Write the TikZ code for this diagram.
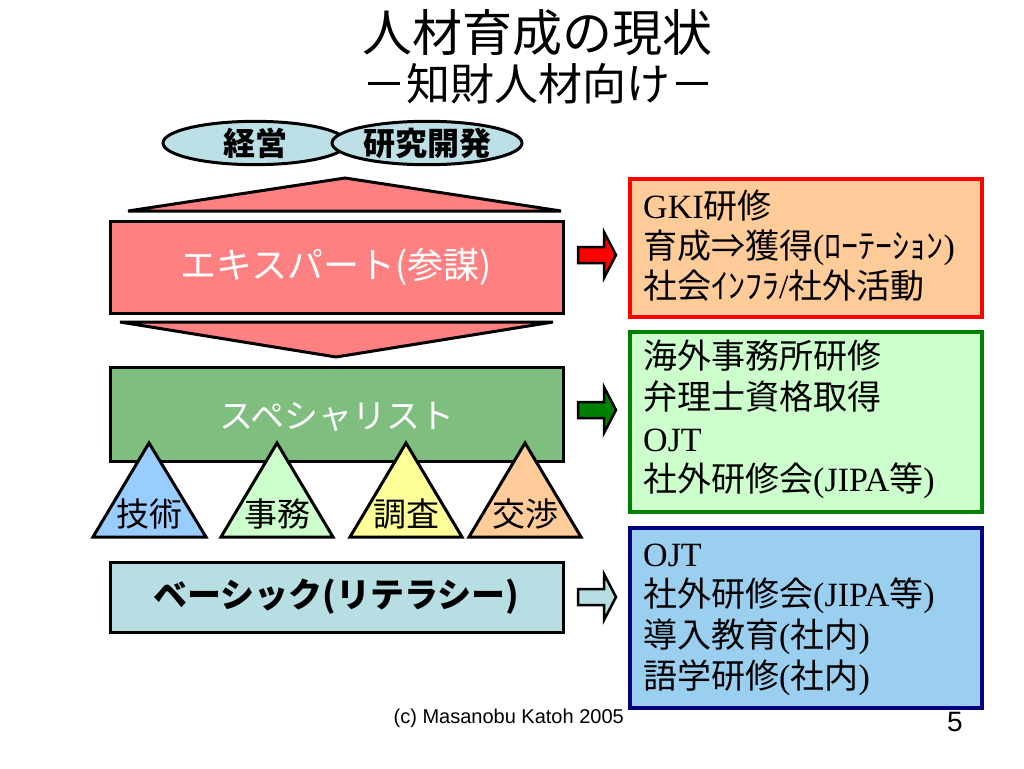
\documentclass[tikz,border=0pt]{standalone}
\usepackage{fontspec}
\setmainfont{Liberation Serif}
\setsansfont{Liberation Sans}
\newfontfamily\jp{Noto Sans CJK JP}
\usetikzlibrary{shapes.geometric}
\definecolor{ellblue}{RGB}{189,224,230}
\definecolor{expred}{RGB}{255,128,128}
\definecolor{spgreen}{RGB}{128,190,128}
\definecolor{tblue}{RGB}{153,204,255}
\definecolor{tgreen}{RGB}{204,255,204}
\definecolor{tyellow}{RGB}{255,255,153}
\definecolor{torange}{RGB}{255,204,153}
\definecolor{basicblue}{RGB}{183,222,227}
\definecolor{boxorange}{RGB}{255,204,153}
\definecolor{boxgreen}{RGB}{204,255,204}
\definecolor{boxblue}{RGB}{155,207,240}
\definecolor{dkgreen}{RGB}{0,128,0}
\definecolor{navy}{RGB}{0,0,128}
\begin{document}
\begin{tikzpicture}[x=1pt,y=-1pt,
  lbox/.style={draw=black, line width=3pt, minimum width=453pt, inner sep=0pt, font=\jp\fontsize{34}{40}\selectfont},
  rbox/.style={line width=3.5pt, minimum width=352pt, inner sep=0pt},
  rline/.style={anchor=base west, inner sep=0pt, font=\fontsize{34}{40}\selectfont},
  ell/.style={ellipse, draw=black, line width=3pt, fill=ellblue, inner sep=0pt, minimum height=40pt, font=\jp\bfseries\fontsize{32}{40}\selectfont},
  tri/.style={draw=black, line width=3pt, line join=miter},
  trilabel/.style={inner sep=0pt, font=\jp\fontsize{33}{40}\selectfont},
  barrow/.style={draw=black, line width=2.5pt, line join=miter}
]
\fill[white] (0,0) rectangle (1024,768);
\useasboundingbox (0,0) rectangle (1024,768);

% title
\node[inner sep=0pt, font=\jp\fontsize{50}{56}\selectfont] (title) at (537,33) {人材育成の現状};
\node[inner sep=0pt, font=\jp\fontsize{44}{50}\selectfont] (subtitle) at (538,84) {－知財人材向け－};

% ellipses
\node[ell, minimum width=184pt] (keiei) at (255,143) {経営};
\node[ell, minimum width=190pt] (kenkyu) at (427,143) {研究開発};

% pyramid parts
\filldraw[tri, fill=expred] (128,211) -- (345,178) -- (561,211) -- cycle;
\node[lbox, fill=expred, minimum height=92pt, text=white, font=\jp\fontsize{36}{40}\selectfont] (expert) at (336.5,267) {エキスパート(参謀)};
\filldraw[tri, fill=expred] (120,322) -- (553,322) -- (336,357) -- cycle;
\node[lbox, fill=spgreen, minimum height=94pt] (special) at (336.5,414) {};
\node[trilabel, font=\jp\fontsize{34}{40}\selectfont, text=white] (speciallabel) at (337,417) {スペシャリスト};

% skill triangles
\filldraw[tri, fill=tblue] (93,537) -- (149,443) -- (206,537) -- cycle;
\node[trilabel] (gijutsu) at (149,514) {技術};
\filldraw[tri, fill=tgreen] (221,537) -- (277,443) -- (333,537) -- cycle;
\node[trilabel] (jimu) at (277,514) {事務};
\filldraw[tri, fill=tyellow] (350,537) -- (406,443) -- (462,537) -- cycle;
\node[trilabel] (chousa) at (406,514) {調査};
\filldraw[tri, fill=torange] (469,537) -- (525,443) -- (581,537) -- cycle;
\node[trilabel] (koushou) at (525,514) {交渉};

% basic box
\node[lbox, fill=basicblue, minimum height=70pt, font=\jp\bfseries\fontsize{34}{40}\selectfont] (basic) at (336.5,597) {ベーシック(リテラシー)};

% block arrows
\filldraw[barrow, fill=red, shift={(597,255)}] (-19,-8) -- (7,-8) -- (7,-23) -- (19,0) -- (7,23) -- (7,8) -- (-19,8) -- cycle;
\filldraw[barrow, fill=dkgreen, shift={(597,410)}] (-19,-8) -- (7,-8) -- (7,-23) -- (19,0) -- (7,23) -- (7,8) -- (-19,8) -- cycle;
\filldraw[barrow, fill=basicblue, shift={(597,597)}] (-19,-8) -- (7,-8) -- (7,-23) -- (19,0) -- (7,23) -- (7,8) -- (-19,8) -- cycle;

% right boxes
\node[rbox, draw=red, fill=boxorange, minimum height=138pt] (box1) at (806,248) {};
\node[rline] (b1l1) at (643,218) {GKI{\jp 研修}};
\node[rline] (b1l2) at (643,258) {{\jp 育成⇒獲得}({\jp ﾛｰﾃｰｼｮﾝ})};
\node[rline] (b1l3) at (643,298) {{\jp 社会ｲﾝﾌﾗ}/{\jp 社外活動}};

\node[rbox, draw=dkgreen, fill=boxgreen, minimum height=180pt] (box2) at (806,422) {};
\node[rline] (b2l1) at (643,368) {{\jp 海外事務所研修}};
\node[rline] (b2l2) at (643,409) {{\jp 弁理士資格取得}};
\node[rline] (b2l3) at (643,451) {OJT};
\node[rline] (b2l4) at (643,491) {{\jp 社外研修会}(JIPA{\jp 等})};

\node[rbox, draw=navy, fill=boxblue, minimum height=180pt] (box3) at (806,618) {};
\node[rline] (b3l1) at (643,566) {OJT};
\node[rline] (b3l2) at (643,606) {{\jp 社外研修会}(JIPA{\jp 等})};
\node[rline] (b3l3) at (643,647) {{\jp 導入教育}({\jp 社内})};
\node[rline] (b3l4) at (643,688) {{\jp 語学研修}({\jp 社内})};

% footer
\node[anchor=base east, inner sep=0pt, font=\sffamily\fontsize{20}{22}\selectfont] (copy) at (624,723) {(c) Masanobu Katoh 2005};
\node[inner sep=0pt, font=\sffamily\fontsize{28}{32}\selectfont] (page) at (955,722) {5};
\end{tikzpicture}
\end{document}
